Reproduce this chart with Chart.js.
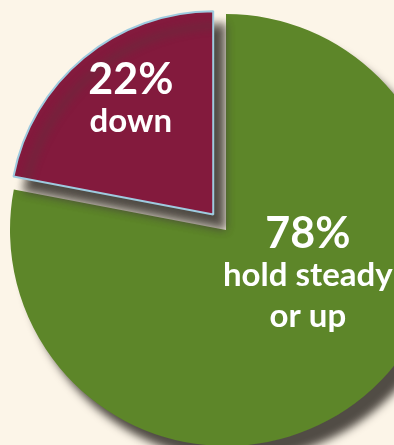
<!DOCTYPE html>
<html>
<head>
<meta charset="utf-8">
<script src="https://cdn.jsdelivr.net/npm/chart.js@4.4.1/dist/chart.umd.min.js"></script>
<style>
  html, body { margin: 0; padding: 0; background: #fcf5e8; overflow: hidden; }
  #wrap { position: absolute; left: 0; top: 0; width: 452px; height: 460px; }
</style>
</head>
<body>
<div id="wrap"><canvas id="pieChart" width="452" height="460"></canvas></div>
<script>
const categories = ['hold steady or up', 'down'];
const shares = [78, 22];
const categoryLines = [['hold steady', 'or up'], ['down']];
const sliceColors = ['#5d8629', '#831a3d'];

// where each label block sits, relative to the slice's centre point
const labelNudge = [[13, -65], [-5, -27]];

let ctx = document.getElementById('pieChart').getContext('2d')

const piePlugin = {
  id: 'piePlugin',
  afterDatasetsUpdate(chart) {
    // the pulled-out slice is drawn a bit smaller
    let arcs = chart.getDatasetMeta(0).data
    arcs[1].outerRadius = arcs[0].outerRadius - 13
  },
  beforeDatasetsDraw(chart) {
    let c = chart.ctx
    c.save()
    c.shadowColor = 'rgba(72, 66, 60, 0.95)'
    c.shadowBlur = 9
    c.shadowOffsetX = 11
    c.shadowOffsetY = 14
  },
  afterDatasetsDraw(chart) {
    let c = chart.ctx
    c.restore()
    c.save()
    c.fillStyle = '#ffffff'
    c.textAlign = 'center'
    c.textBaseline = 'alphabetic'
    chart.getDatasetMeta(0).data.forEach((arc, i) => {
      let p = arc.getCenterPoint()
      let x = p.x + labelNudge[i][0]
      let y = p.y + labelNudge[i][1]
      c.font = 'bold 43px Lato'
      c.fillText(shares[i] + '%', x, y)
      c.font = 'bold 33px Lato'
      categoryLines[i].forEach((line, j) => {
        c.fillText(line, x, y + 38 + j * 41)
      })
    })
    c.restore()
  }
}

let summaryChart = new Chart(ctx, {
  type: 'pie',
  data: {
    labels: categories,
    datasets: [{
      data: shares,
      backgroundColor: sliceColors,
      borderColor: ['rgba(0,0,0,0)', '#9fcbe0'],
      borderWidth: [0, 2],
      offset: [0, 80]
    }]
  },
  options: {
    responsive: false,
    animation: false,
    radius: 216,
    events: [],
    layout: { padding: 0 },
    plugins: {
      legend: { display: false },
      tooltip: { enabled: false }
    }
  },
  plugins: [piePlugin]
});
</script>
</body>
</html>
